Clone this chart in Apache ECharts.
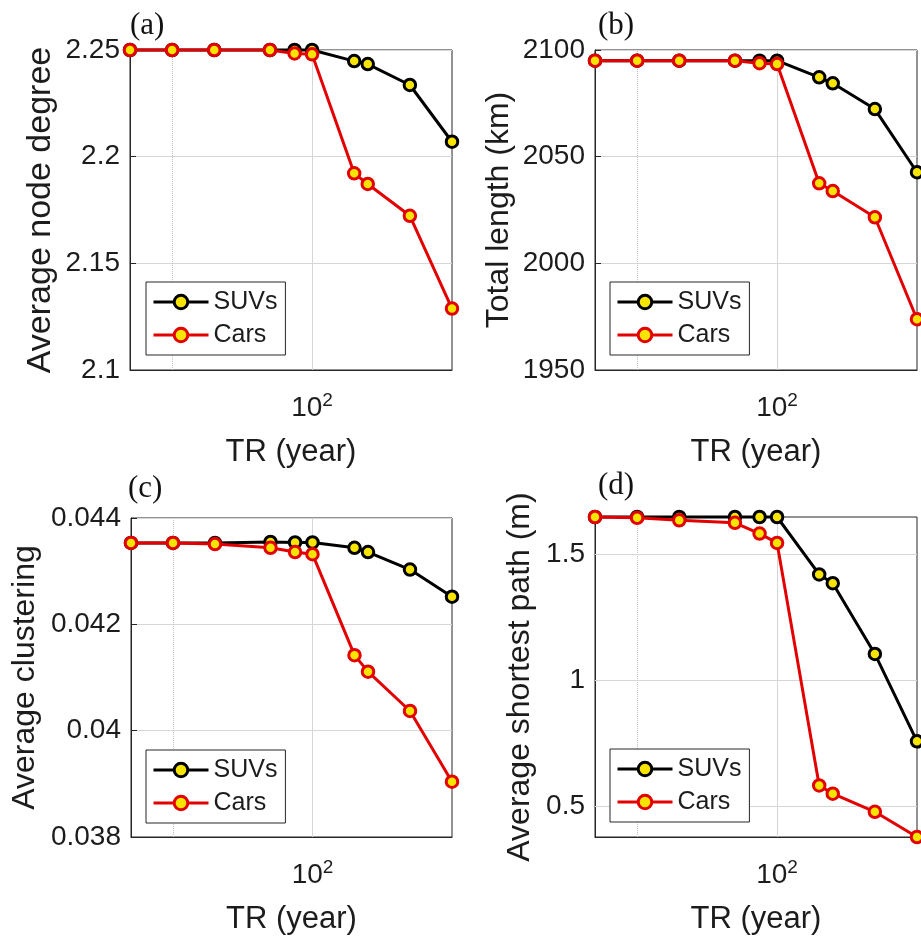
<!DOCTYPE html>
<html>
<head>
<meta charset="utf-8">
<script src="https://cdn.jsdelivr.net/npm/echarts@6/dist/echarts.min.js"></script>
<style>
  html, body { margin: 0; padding: 0; background: #fff; }
  #chart { width: 921px; height: 936px; }
</style>
</head>
<body>
<div id="chart"></div>
<script>
// Return periods (years) — shared x values
const xTR = [5, 10, 20, 50, 75, 100, 200, 250, 500, 1000];

// (a) Average node degree
const degSUV = [2.25, 2.25, 2.25, 2.25, 2.25, 2.25, 2.2448, 2.2434, 2.2336, 2.207];
const degCar = [2.25, 2.25, 2.25, 2.25, 2.2484, 2.248, 2.1922, 2.1872, 2.1723, 2.1288];

// (b) Total length (km)
const lenSUV = [2095, 2095, 2095, 2095, 2095, 2095, 2087.2, 2084.4, 2072.3, 2042.7];
const lenCar = [2095, 2095, 2095, 2095, 2093.8, 2093.4, 2037.5, 2033.9, 2021.6, 1973.8];

// (c) Average clustering
const cluSUV = [0.04353, 0.04353, 0.04353, 0.04355, 0.04354, 0.04354, 0.04344, 0.04336, 0.04303, 0.04252];
const cluCar = [0.04353, 0.04353, 0.04351, 0.04344, 0.04336, 0.04332, 0.04142, 0.04111, 0.04037, 0.03904];

// (d) Average shortest path (m)
const aspSUV = [1.649, 1.649, 1.649, 1.649, 1.649, 1.649, 1.421, 1.386, 1.105, 0.758];
const aspCar = [1.649, 1.646, 1.636, 1.626, 1.583, 1.546, 0.583, 0.55, 0.478, 0.378];

const panelLabels = ['(a)', '(b)', '(c)', '(d)'];
const yTitles = ['Average node degree', 'Total length (km)', 'Average clustering', 'Average shortest path (m)'];
const xTitle = 'TR (year)';
const seriesNames = ['SUVs', 'Cars'];
const xGridValues = [10, 100];
const dTicks = [0.5, 1, 1.5];

const SANS = '"Liberation Sans", Arial, Helvetica, sans-serif';
const SERIF = '"Liberation Serif", "Times New Roman", serif';
const RED = '#e30000';
const BLACK = '#000000';
const YEL = '#f7e400';
const GRIDC = '#d6d6d6';
const AXC = '#262626';
const TXT = '#1c1c1c';

const grids = [
  { left: 130, top: 50, width: 322, height: 320 },
  { left: 595, top: 50, width: 322, height: 320 },
  { left: 131, top: 518, width: 321, height: 320 },
  { left: 595, top: 517, width: 322, height: 321 }
];
const yCfg = [
  { min: 2.1, max: 2.25, interval: 0.05, gap: 72, nameSize: 34 },
  { min: 1950, max: 2100, interval: 50, gap: 80, nameSize: 32 },
  { min: 0.038, max: 0.044, interval: 0.002, gap: 90, nameSize: 32 },
  { min: 0.378, max: 1.649, custom: dTicks, gap: 59, nameSize: 32 }
];
const data = [
  [degSUV, degCar], [lenSUV, lenCar], [cluSUV, cluCar], [aspSUV, aspCar]
];
const titlePos = [
  { left: 130, top: 10 }, { left: 598, top: 10 }, { left: 128, top: 473 }, { left: 598, top: 470 }
];
const legendPos = [
  { left: 146, top: 282 }, { left: 610, top: 282 }, { left: 146, top: 750 }, { left: 610, top: 749 }
];

const option = {
  animation: false,
  backgroundColor: '#fff',
  title: panelLabels.map((t, i) => ({
    text: t, left: titlePos[i].left, top: titlePos[i].top, padding: 0,
    textStyle: { fontFamily: SERIF, fontSize: 31, fontWeight: 'normal', color: '#111' }
  })),
  legend: legendPos.map((p, i) => ({
    data: seriesNames, orient: 'vertical', left: p.left, top: p.top,
    padding: [5, 8, 5, 6], itemGap: 3, itemWidth: 55, itemHeight: 17,
    borderColor: AXC, borderWidth: 1, backgroundColor: '#fff',
    selectedMode: false,
    lineStyle: { width: 3 },
    itemStyle: { borderWidth: 3 },
    textStyle: { fontFamily: SANS, fontSize: 25, color: TXT, lineHeight: 30 }
  })),
  grid: grids.map(g => Object.assign({ show: true, borderColor: AXC, borderWidth: 1, backgroundColor: 'transparent' }, g)),
  xAxis: grids.map((g, i) => ({
    type: 'log', logBase: 10, min: 5, max: 1000, gridIndex: i,
    name: xTitle, nameLocation: 'middle', nameGap: 67,
    nameTextStyle: { fontFamily: SANS, fontSize: 31, color: TXT },
    axisLine: { show: true, lineStyle: { color: AXC, width: 1 } },
    axisTick: { show: false },
    splitLine: { show: false },
    axisLabel: {
      margin: 21,
      formatter: v => (Math.abs(v - 100) < 1e-6 ? '{b|10}{s|2}' : ''),
      rich: {
        b: { fontFamily: SANS, fontSize: 28, color: TXT },
        s: { fontFamily: SANS, fontSize: 19, color: TXT, padding: [0, 0, 16, 0] }
      }
    }
  })),
  yAxis: yCfg.map((c, i) => {
    const ax = {
      type: 'value', gridIndex: i, min: c.min, max: c.max,
      name: yTitles[i], nameLocation: 'middle', nameGap: c.gap,
      nameTextStyle: { fontFamily: SANS, fontSize: c.nameSize, color: TXT },
      axisLine: { show: true, lineStyle: { color: AXC, width: 1 } },
      axisTick: { show: true, inside: true, length: 6, lineStyle: { color: AXC } },
      axisLabel: { margin: 10, fontFamily: SANS, fontSize: 28, color: TXT, formatter: v => String(+v.toFixed(6)) },
      splitLine: { show: true, lineStyle: { color: GRIDC, width: 1 } }
    };
    if (c.custom) {
      ax.splitLine = { show: false };
      ax.axisLabel.customValues = c.custom;
      ax.axisTick.customValues = c.custom;
    } else {
      ax.interval = c.interval;
    }
    return ax;
  }),
  series: []
};

data.forEach((pair, i) => {
  const gridLines = xGridValues.map(v => ({
    xAxis: v,
    lineStyle: v === 100 ? { type: 'solid', color: GRIDC, width: 1 } : { type: 'dotted', color: '#c4c4c4', width: 1 }
  }));
  if (yCfg[i].custom) {
    yCfg[i].custom.forEach(v => gridLines.push({ yAxis: v, lineStyle: { type: 'solid', color: GRIDC, width: 1 } }));
  }
  pair.forEach((ys, k) => {
    const col = k === 0 ? BLACK : RED;
    const s = {
      name: seriesNames[k], type: 'line', xAxisIndex: i, yAxisIndex: i,
      data: xTR.map((x, j) => [x, ys[j]]),
      clip: false, symbol: 'circle', symbolSize: 11.5, z: 3 + k,
      lineStyle: { color: col, width: 3 },
      itemStyle: { color: YEL, borderColor: col, borderWidth: 3 },
      emphasis: { disabled: true }
    };
    if (k === 0) {
      s.markLine = {
        silent: true, symbol: ['none', 'none'], label: { show: false }, z: 1,
        animation: false, emphasis: { disabled: true }, data: gridLines
      };
    }
    option.series.push(s);
  });
});

const chart = echarts.init(document.getElementById('chart'), null, { renderer: 'canvas' });
chart.setOption(option);
</script>
</body>
</html>
